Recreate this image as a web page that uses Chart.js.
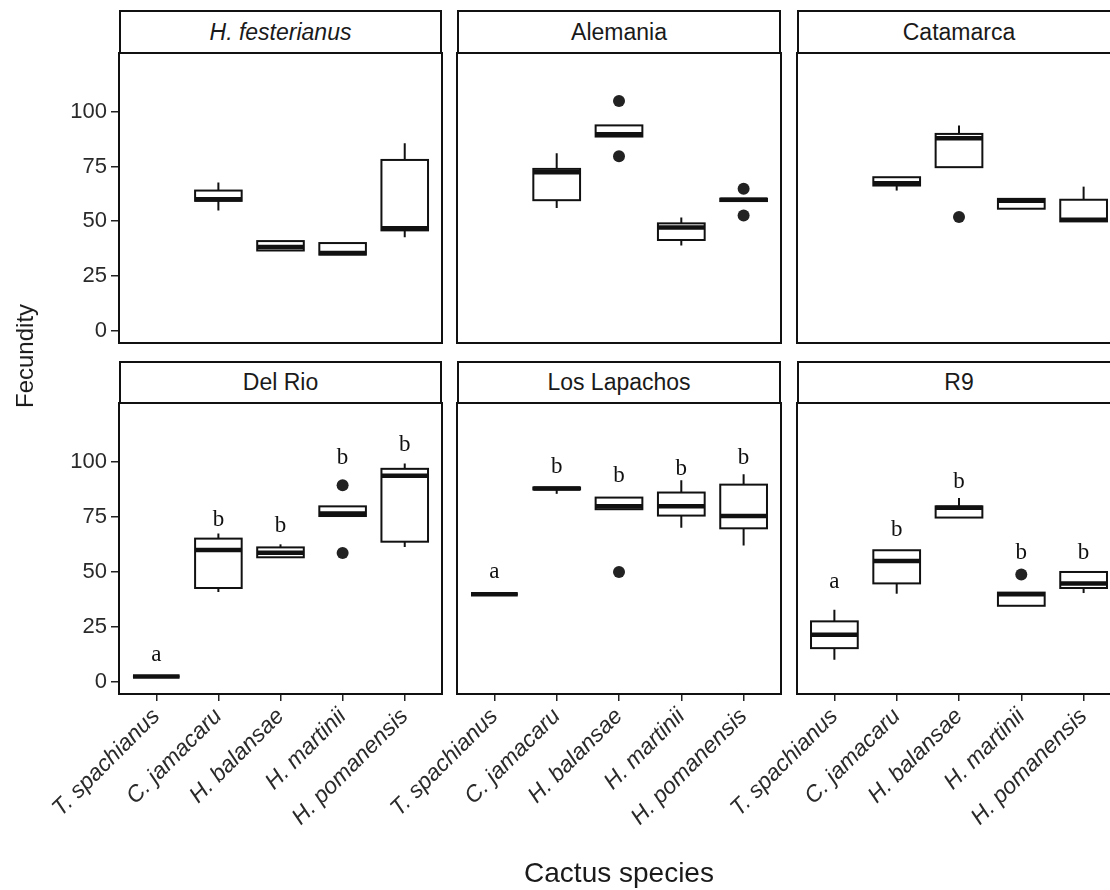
<!doctype html>
<html><head><meta charset="utf-8"><title>Fecundity by cactus species</title>
<script src="https://cdn.jsdelivr.net/npm/chart.js@4"></script>
<style>
  body { margin: 0; width: 1110px; height: 890px; overflow: hidden; position: relative; background: #fff;
    font-family: 'Liberation Sans', Arial, sans-serif; color: #1a1a1a }
  canvas { position: absolute; left: 0; top: 0; pointer-events: none }
  .strip { position: absolute; box-sizing: border-box; border: 2px solid #111; background: #fff;
    text-align: center; font-size: 23px }
  .axt { position: absolute; white-space: nowrap }
</style>
</head>
<body>
<script>
const species = ['T. spachianus', 'C. jamacaru', 'H. balansae', 'H. martinii', 'H. pomanensis']
const sites = ['H. festerianus', 'Alemania', 'Catamarca', 'Del Rio', 'Los Lapachos', 'R9']
const yTicks = [0, 25, 50, 75, 100]

// per species: [lower whisker, q1, median, q3, upper whisker], null = no data
const boxFesterianus = [null, [54.9, 59.3, 60.0, 64.0, 67.7], [36.6, 36.6, 38.2, 40.9, 40.9], [34.7, 34.7, 35.4, 40.0, 40.0], [42.7, 45.8, 46.8, 78.0, 85.6]]
const boxAlemania = [null, [56.0, 59.6, 72.4, 73.9, 81.1], [88.7, 88.7, 89.7, 93.8, 93.8], [38.9, 41.4, 47.1, 49.0, 51.7], [59.2, 59.2, 59.8, 60.3, 60.3]]
const boxCatamarca = [null, [64.0, 66.3, 67.4, 70.1, 70.1], [74.7, 74.7, 87.9, 89.9, 93.7], [55.7, 55.7, 59.3, 60.2, 60.2], [49.9, 49.9, 50.6, 59.8, 65.8]]
const boxDelRio = [[2.3, 2.3, 2.3, 2.3, 2.3], [40.8, 42.6, 59.9, 65.1, 67.4], [56.6, 56.6, 58.7, 61.1, 62.5], [75.4, 75.4, 76.5, 79.8, 79.8], [61.3, 63.7, 93.8, 96.9, 99.3]]
const boxLosLapachos = [[39.7, 39.7, 39.7, 39.7, 39.7], [85.5, 87.5, 87.9, 88.4, 88.4], [78.5, 78.5, 79.8, 83.8, 83.8], [70.1, 75.6, 79.8, 86.1, 91.7], [62.0, 69.8, 75.4, 89.7, 94.4]]
const boxR9 = [[9.9, 15.2, 21.3, 27.4, 32.7], [40.0, 44.7, 54.9, 59.8, 59.8], [74.7, 74.7, 79.2, 79.8, 83.6], [34.5, 34.5, 39.7, 40.5, 40.5], [40.3, 42.6, 44.6, 49.9, 49.9]]

// outliers: [species index, value]
const outFesterianus = []
const outAlemania = [[2, 104.9], [2, 79.7], [4, 64.8], [4, 52.6]]
const outCatamarca = [[2, 51.9]]
const outDelRio = [[3, 89.4], [3, 58.5]]
const outLosLapachos = [[2, 49.9]]
const outR9 = [[3, 48.7]]

// group letters: [letter, y] per species
const letDelRio = [['a', 12.0], ['b', 73.5], ['b', 70.8], ['b', 101.7], ['b', 107.8]]
const letLosLapachos = [['a', 50.0], ['b', 97.8], ['b', 93.7], ['b', 97.0], ['b', 102.0]]
const letR9 = [['a', 45.5], ['b', 69.2], ['b', 90.9], ['b', 58.5], ['b', 58.5]]

const panels = [
  { boxes: boxFesterianus, out: outFesterianus, letters: null },
  { boxes: boxAlemania, out: outAlemania, letters: null },
  { boxes: boxCatamarca, out: outCatamarca, letters: null },
  { boxes: boxDelRio, out: outDelRio, letters: letDelRio },
  { boxes: boxLosLapachos, out: outLosLapachos, letters: letLosLapachos },
  { boxes: boxR9, out: outR9, letters: letR9 }
]

// page layout (px)
const W = 1130, H = 890
const colL = [119, 457, 797], colR = [442, 781, 1121]
const rowT = [53, 403], rowB = [343, 694]
const stripT = [10, 361]
const YW = 119, XH = 140
const SANS = "'Liberation Sans', Arial, sans-serif"

function boxPlugin(p) {
  return {
    id: 'boxes',
    beforeDatasetsDraw(chart) {
      const { ctx, scales: { x, y } } = chart
      ctx.save()
      ctx.strokeStyle = '#111'
      p.boxes.forEach((b, i) => {
        if (!b) return
        const [lo, q1, med, q3, hi] = b
        const cx = x.getPixelForValue(i)
        const hw = x.getPixelForValue(i + 0.375) - cx
        const top = y.getPixelForValue(q3), bot = y.getPixelForValue(q1)
        ctx.lineWidth = 2
        ctx.beginPath()
        ctx.moveTo(cx, y.getPixelForValue(hi)); ctx.lineTo(cx, top)
        ctx.moveTo(cx, bot); ctx.lineTo(cx, y.getPixelForValue(lo))
        ctx.stroke()
        ctx.fillStyle = '#fff'
        ctx.fillRect(cx - hw, top, 2 * hw, bot - top)
        ctx.strokeRect(cx - hw, top, 2 * hw, bot - top)
        const ym = y.getPixelForValue(med)
        ctx.lineWidth = 4.5
        ctx.beginPath()
        ctx.moveTo(cx - hw, ym); ctx.lineTo(cx + hw, ym)
        ctx.stroke()
      })
      ctx.restore()
    },
    afterDatasetsDraw(chart) {
      const { ctx, scales: { x, y } } = chart
      if (p.letters) {
        ctx.save()
        ctx.fillStyle = '#111'
        ctx.font = "23px 'Liberation Serif', 'Times New Roman', serif"
        ctx.textAlign = 'center'
        ctx.textBaseline = 'middle'
        p.letters.forEach(([t, v], i) => ctx.fillText(t, x.getPixelForValue(i), y.getPixelForValue(v)))
        ctx.restore()
      }
      const a = chart.chartArea
      ctx.save()
      ctx.strokeStyle = '#111'
      ctx.lineWidth = 2
      ctx.strokeRect(a.left, a.top, a.right - a.left, a.bottom - a.top)
      ctx.restore()
    }
  }
}

panels.forEach((p, k) => {
  const row = Math.floor(k / 3), col = k % 3
  const showX = row === 1, showY = col === 0

  const s = document.createElement('div')
  s.className = 'strip'
  s.style.left = colL[col] + 'px'
  s.style.top = stripT[row] + 'px'
  s.style.width = (colR[col] - colL[col]) + 'px'
  s.style.height = (rowT[row] - stripT[row] + 1) + 'px'
  s.style.lineHeight = (rowT[row] - stripT[row] - 3) + 'px'
  s.textContent = sites[k]
  if (k === 0) s.style.fontStyle = 'italic'
  document.body.appendChild(s)

  const c = document.createElement('canvas')
  c.width = W; c.height = H
  c.style.width = W + 'px'; c.style.height = H + 'px'
  document.body.appendChild(c)

  new Chart(c.getContext('2d'), {
    type: 'scatter',
    data: {
      datasets: [{
        data: p.out.map(([i, v]) => ({ x: i, y: v })),
        pointRadius: 6,
        pointHoverRadius: 6,
        backgroundColor: '#222',
        borderWidth: 0
      }]
    },
    options: {
      responsive: false,
      animation: false,
      devicePixelRatio: 1,
      events: [],
      layout: {
        padding: {
          left: showY ? colL[col] - YW : colL[col],
          top: rowT[row],
          right: W - colR[col],
          bottom: showX ? H - rowB[row] - XH : H - rowB[row]
        }
      },
      plugins: { legend: { display: false }, tooltip: { enabled: false } },
      scales: {
        x: {
          type: 'linear',
          min: -0.6,
          max: 4.6,
          display: showX,
          afterBuildTicks: (sc) => { sc.ticks = species.map((_, i) => ({ value: i })) },
          afterFit: (sc) => {
            sc.paddingLeft = 0; sc.paddingRight = 0
            sc.height = showX ? XH : 0
          },
          grid: { drawOnChartArea: false, drawTicks: true, tickLength: 7, color: '#222', lineWidth: 1.5 },
          border: { display: false },
          ticks: {
            autoSkip: false,
            minRotation: 45,
            maxRotation: 45,
            padding: 2,
            color: '#2a2a2a',
            font: { family: SANS, size: 23, style: 'italic' },
            callback: (v) => species[v]
          }
        },
        y: {
          type: 'linear',
          min: -5.7,
          max: 126.9,
          display: showY,
          afterBuildTicks: (sc) => { sc.ticks = yTicks.map((v) => ({ value: v })) },
          afterFit: (sc) => {
            sc.paddingTop = 0; sc.paddingBottom = 0
            sc.width = showY ? YW : 0
          },
          grid: { drawOnChartArea: false, drawTicks: true, tickLength: 8, color: '#222', lineWidth: 1.5 },
          border: { display: false },
          ticks: { padding: 4, color: '#2a2a2a', font: { family: SANS, size: 22 } }
        }
      }
    },
    plugins: [boxPlugin(p)]
  })
})

const yt = document.createElement('div')
yt.className = 'axt'
yt.textContent = 'Fecundity'
yt.style.fontSize = '24px'
yt.style.left = '25px'
yt.style.top = '356px'
yt.style.transform = 'translate(-50%, -50%) rotate(-90deg)'
document.body.appendChild(yt)

const xt = document.createElement('div')
xt.className = 'axt'
xt.textContent = 'Cactus species'
xt.style.fontSize = '28px'
xt.style.left = '619px'
xt.style.top = '873px'
xt.style.transform = 'translate(-50%, -50%)'
document.body.appendChild(xt)
</script>
</body></html>
